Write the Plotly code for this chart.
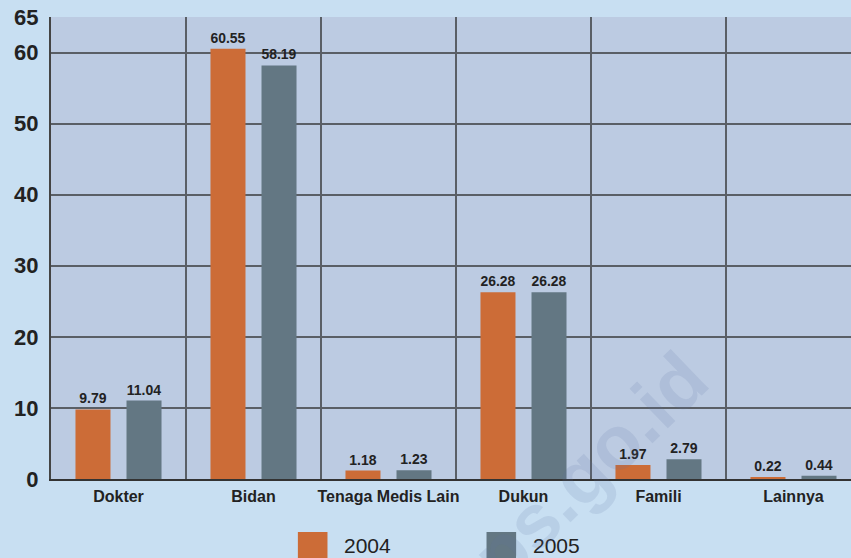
import plotly.graph_objects as go

# penolong persalinan, persen
categories = ["Dokter", "Bidan", "Tenaga Medis Lain", "Dukun", "Famili", "Lainnya"]
years = ["2004", "2005"]
vals_2004 = [9.79, 60.55, 1.18, 26.28, 1.97, 0.22]
vals_2005 = [11.04, 58.19, 1.23, 26.28, 2.79, 0.44]
y_ticks = [0, 10, 20, 30, 40, 50, 60, 65]
colors = ["#cc6c37", "#637783"]

fig = go.Figure()
for name, vals, col in zip(years, [vals_2004, vals_2005], colors):
    fig.add_trace(go.Bar(
        x=categories, y=vals, name=name,
        marker=dict(color=col, line=dict(width=0)),
        text=[f"{v:.2f}" for v in vals],
        texttemplate="<b>%{text}</b>",
        textposition="outside",
        textfont=dict(family="Liberation Sans", size=14, color="#222222"),
        cliponaxis=False,
        showlegend=False,
    ))

fig.update_layout(
    width=851, height=558,
    margin=dict(l=51, r=0, t=17, b=79),
    paper_bgcolor="#c8dff2",
    plot_bgcolor="#bccbe2",
    barmode="group",
    bargap=0.244,
    bargroupgap=0.314,
    font=dict(family="Liberation Sans", color="#222222"),
)
fig.update_xaxes(
    range=[-0.5, 5.426],
    tickson="boundaries",
    tickvals=categories,
    ticktext=[f"<b>{c}</b>" for c in categories],
    tickangle=0, automargin=False,
    showgrid=True, gridcolor="#5a5f66", gridwidth=2,
    ticks="", showline=True, linecolor="#333333", linewidth=2,
    tickfont=dict(family="Liberation Sans", size=16, color="#222222"),
    ticklabelstandoff=2,
)
fig.update_yaxes(
    range=[0, 65],
    tickvals=y_ticks,
    ticktext=[f"<b>{t}</b>" for t in y_ticks],
    automargin=False,
    showgrid=True, gridcolor="#5a5f66", gridwidth=2,
    zeroline=False,
    showline=True, linecolor="#444444", linewidth=2,
    ticks="", ticklabelstandoff=6,
    tickfont=dict(family="Liberation Sans", size=22, color="#222222"),
)

# legend drawn below the plot
leg_x = [0.3086, 0.5444]
for i, (name, col) in enumerate(zip(years, colors)):
    fig.add_shape(type="rect", xref="paper", yref="paper",
                  x0=leg_x[i], x1=leg_x[i] + 0.037, y0=-0.19, y1=-0.1147,
                  fillcolor=col, line=dict(width=0), layer="above")
    fig.add_annotation(x=leg_x[i] + 0.055, y=-0.145, xref="paper", yref="paper",
                       text=name, showarrow=False, xanchor="left", yanchor="middle",
                       font=dict(family="Liberation Sans", size=21, color="#222222"))

# watermark
fig.add_annotation(x=0.652, y=-0.01, xref="paper", yref="paper",
                   xanchor="center", yanchor="middle",
                   text="<b>bps.go.id</b>", showarrow=False, textangle=-44,
                   font=dict(family="Liberation Sans", size=76, color="rgba(90,110,160,0.14)"))

fig.write_html("out.html", config={"displayModeBar": False},
               post_script="document.body.style.margin='0';")
